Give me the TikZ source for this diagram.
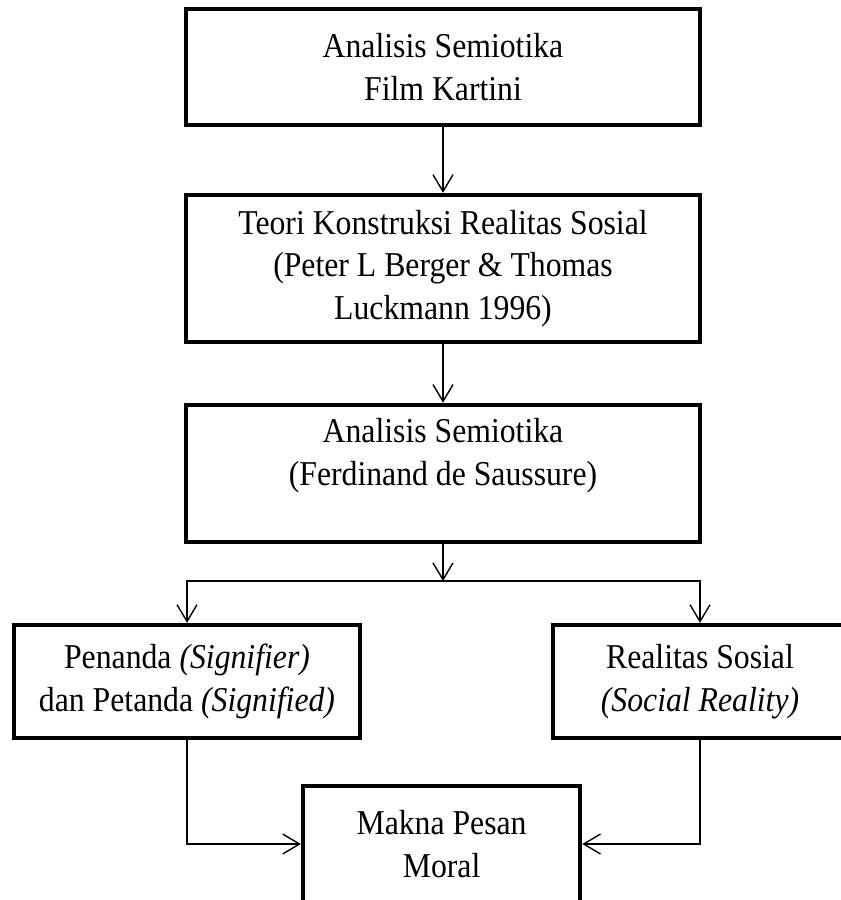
\documentclass[tikz,border=0pt]{standalone}
\usepackage{fontspec}
\setmainfont{Liberation Serif}[FakeStretch=0.91]
\usepackage{tikz}
\usetikzlibrary{positioning}
\usetikzlibrary{arrows.meta}

\tikzset{
	kotak/.style={draw, line width=3.2pt, align=center, inner sep=0pt,
		font=\fontsize{24.8}{30.5}\selectfont},
	panah/.style={line width=1pt, -{Straight Barb[length=0.42cm,width=0.5cm]}},
}

\begin{document}
\begin{tikzpicture}
	\useasboundingbox (0,0) rectangle (21,-22.5);
	%% kolom tengah
	\node[kotak, minimum width=12.85cm, minimum height=2.9cm] (film) at (11.075,-1.675)
		{Analisis Semiotika\\Film Kartini};
	\node[kotak, minimum width=12.85cm, minimum height=3.675cm, below =1.64cm of film] (teori)
		{Teori Konstruksi Realitas Sosial\\(Peter L Berger \& Thomas\\Luckmann 1996)};
	\node[kotak, minimum width=12.85cm, minimum height=3.425cm, below =1.46cm of teori] (saussure)
		{Analisis Semiotika\\(Ferdinand de Saussure)\\ \mbox{}};
	\coordinate[below =0.92cm of saussure] (cabang);
	%% dua cabang
	\node[kotak, minimum width=8.65cm, minimum height=2.825cm] (penanda) at (4.675,-17.04)
		{Penanda \textit{(Signifier)}\\dan Petanda \textit{(Signified)}};
	\node[kotak, minimum width=7.35cm, minimum height=2.825cm] (realitas) at (17.5,-17.04)
		{Realitas Sosial\\\textit{(Social Reality)}};
	%% hasil
	\node[kotak, minimum width=6.925cm, minimum height=2.9cm] (makna) at (11.04,-21.1)
		{Makna Pesan\\Moral};
	% garis panah
	\draw[panah] (film) -- (teori);
	\draw[panah] (teori) -- (saussure);
	\draw[panah] (saussure) -- (cabang);
	\draw[panah] (cabang) -| (penanda);
	\draw[panah] (cabang) -| (realitas);
	\draw[panah] (penanda) |- (makna);
	\draw[panah] (realitas) |- (makna);
\end{tikzpicture}
\end{document}
